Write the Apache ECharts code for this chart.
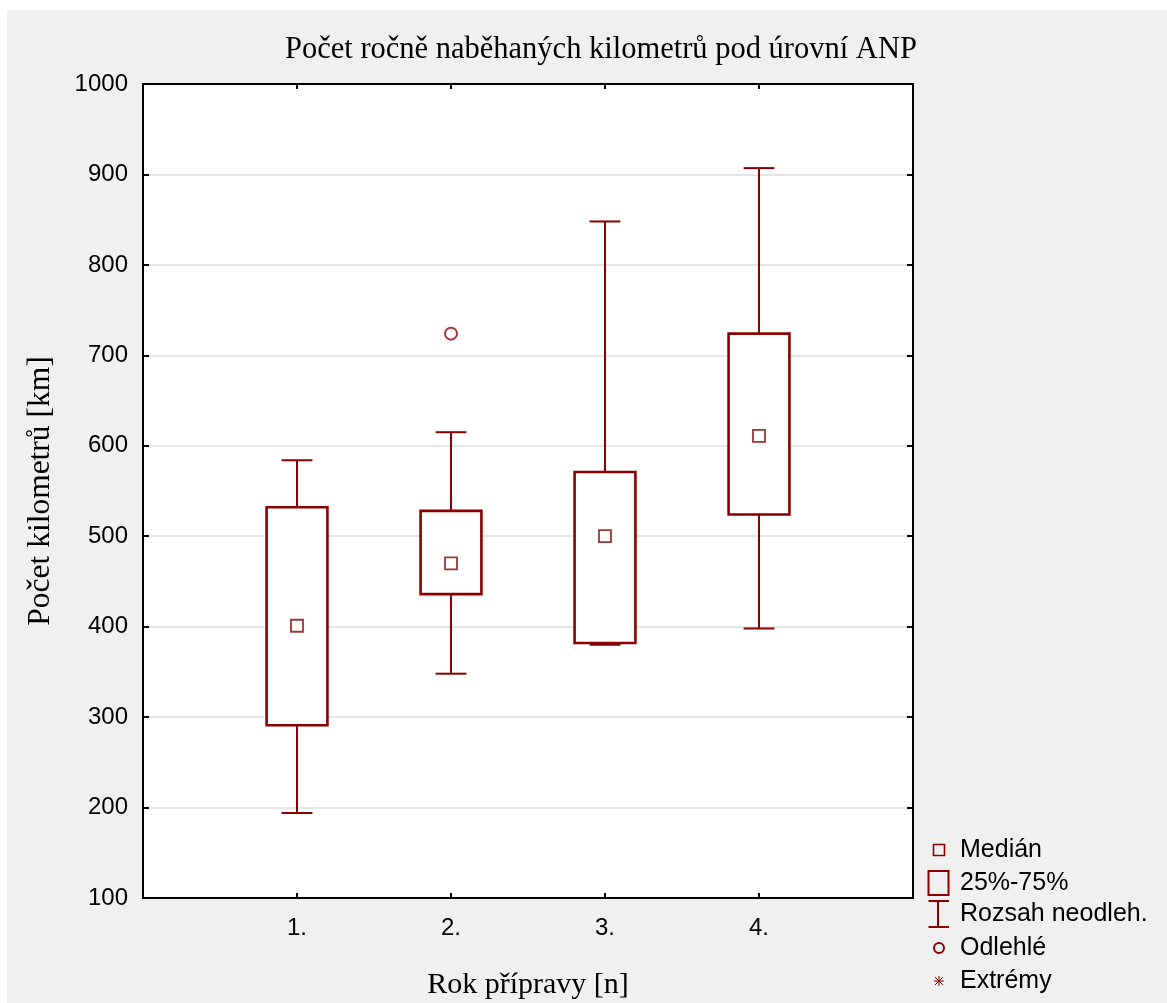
<!DOCTYPE html>
<html>
<head>
<meta charset="utf-8">
<script src="https://cdn.jsdelivr.net/npm/echarts@6/dist/echarts.min.js"></script>
<style>
  html, body { margin: 0; padding: 0; background: #fff; }
  #bg { position: absolute; left: 7px; top: 10px; width: 1160px; height: 993px; background: #f0f0f0; }
  #chart { position: absolute; left: 0; top: 0; width: 1167px; height: 1003px; }
</style>
</head>
<body>
<div id="bg"></div>
<div id="chart"></div>
<script>
// rok přípravy
const categories = ["1.", "2.", "3.", "4."];
// rozsah neodlehlých hodnot a kvartily
const whiskerLow = [194, 348, 380, 398];
const q1 = [291, 436, 382, 524];
const median = [401, 470, 500, 611];
const q3 = [532, 528, 571, 724];
const whiskerHigh = [584, 615, 848, 907];
// odlehlé hodnoty [rok, km]
const outliers = [["2.", 724]];
const yTicks = [100, 1000, 100]; // min, max, krok

const RED = "#880000";
const SANS = "Liberation Sans, Arial, sans-serif";
const SERIF = "Liberation Serif, Times New Roman, serif";

// okraje osy x: prázdné pozice vlevo a vpravo
const xCats = [""].concat(categories).concat([" "]);

const chart = echarts.init(document.getElementById("chart"));

const boxData = categories.map((c, i) => [c, whiskerLow[i], q1[i], median[i], q3[i], whiskerHigh[i]]);
const medianData = categories.map((c, i) => [c, median[i]]);

function renderBox(params, api) {
  const x = api.value(0);
  const lo = api.coord([x, api.value(1)]);
  const b1 = api.coord([x, api.value(2)]);
  const b3 = api.coord([x, api.value(4)]);
  const hi = api.coord([x, api.value(5)]);
  const band = api.size([1, 0])[0];
  const boxW = band * 0.395;
  const capW = band * 0.2;
  const cx = lo[0];
  const lineStyle = { stroke: RED, lineWidth: 2, fill: null };
  return {
    type: "group",
    children: [
      { type: "line", shape: { x1: cx, y1: b3[1], x2: cx, y2: hi[1] }, style: lineStyle },
      { type: "line", shape: { x1: cx - capW / 2, y1: hi[1], x2: cx + capW / 2, y2: hi[1] }, style: lineStyle },
      { type: "line", shape: { x1: cx, y1: b1[1], x2: cx, y2: lo[1] }, style: lineStyle },
      { type: "line", shape: { x1: cx - capW / 2, y1: lo[1], x2: cx + capW / 2, y2: lo[1] }, style: lineStyle },
      {
        type: "rect",
        shape: { x: cx - boxW / 2, y: b3[1], width: boxW, height: b1[1] - b3[1] },
        style: { stroke: RED, lineWidth: 2.6, fill: "#fff" }
      }
    ]
  };
}

// legenda
const legX = 939, legTextX = 960;
const legRows = [850, 883, 914, 948, 981];
const legNames = ["Medián", "25%-75%", "Rozsah neodleh.", "Odlehlé", "Extrémy"];
const legendEls = [
  { type: "rect", shape: { x: legX - 5.5, y: legRows[0] - 5.5, width: 11, height: 11 }, style: { stroke: RED, lineWidth: 1.6, fill: "none" } },
  { type: "rect", shape: { x: legX - 10.5, y: legRows[1] - 12, width: 20, height: 24 }, style: { stroke: RED, lineWidth: 2, fill: "none" } },
  { type: "line", shape: { x1: legX - 10.5, y1: legRows[2] - 13, x2: legX + 10, y2: legRows[2] - 13 }, style: { stroke: RED, lineWidth: 2 } },
  { type: "line", shape: { x1: legX - 1, y1: legRows[2] - 13, x2: legX - 1, y2: legRows[2] + 13 }, style: { stroke: RED, lineWidth: 2 } },
  { type: "line", shape: { x1: legX - 10.5, y1: legRows[2] + 13, x2: legX + 10, y2: legRows[2] + 13 }, style: { stroke: RED, lineWidth: 2 } },
  { type: "circle", shape: { cx: legX, cy: legRows[3], r: 5 }, style: { stroke: RED, lineWidth: 2, fill: "none" } },
  { type: "line", shape: { x1: legX - 5, y1: legRows[4], x2: legX + 5, y2: legRows[4] }, style: { stroke: RED, lineWidth: 1 } },
  { type: "line", shape: { x1: legX, y1: legRows[4] - 5, x2: legX, y2: legRows[4] + 5 }, style: { stroke: RED, lineWidth: 1 } },
  { type: "line", shape: { x1: legX - 4, y1: legRows[4] - 4, x2: legX + 4, y2: legRows[4] + 4 }, style: { stroke: RED, lineWidth: 1 } },
  { type: "line", shape: { x1: legX - 4, y1: legRows[4] + 4, x2: legX + 4, y2: legRows[4] - 4 }, style: { stroke: RED, lineWidth: 1 } }
];
legNames.forEach((name, i) => {
  legendEls.push({
    type: "text",
    x: legTextX,
    y: legRows[i],
    style: { text: name, font: "25px " + SANS, fill: "#000", textVerticalAlign: "middle" }
  });
});

const tickInner = (idx) => idx >= 1 && idx <= categories.length;

const option = {
  animation: false,
  title: {
    text: "Počet ročně naběhaných kilometrů pod úrovní ANP",
    left: 280,
    top: 29,
    textStyle: { fontFamily: SERIF, fontSize: 30.5, fontWeight: "normal", color: "#000" }
  },
  grid: {
    left: 143,
    top: 84,
    width: 770,
    height: 814,
    outerBoundsMode: "none",
    containLabel: false,
    show: true,
    backgroundColor: "#fff",
    borderColor: "#000",
    borderWidth: 2
  },
  xAxis: [
    {
      type: "category",
      data: xCats,
      boundaryGap: false,
      name: "Rok přípravy [n]",
      nameLocation: "middle",
      nameGap: 72,
      nameTextStyle: { fontFamily: SERIF, fontSize: 30, color: "#000" },
      axisLine: { lineStyle: { color: "#000", width: 2 } },
      axisTick: { inside: true, length: 5, interval: tickInner, lineStyle: { color: "#000", width: 2 } },
      axisLabel: { interval: 0, margin: 18, fontFamily: SANS, fontSize: 24, color: "#000" },
      splitLine: { show: false }
    },
    {
      type: "category",
      data: xCats,
      boundaryGap: false,
      position: "top",
      axisLine: { lineStyle: { color: "#000", width: 2 } },
      axisTick: { inside: true, length: 5, interval: tickInner, lineStyle: { color: "#000", width: 2 } },
      axisLabel: { show: false },
      splitLine: { show: false }
    }
  ],
  yAxis: [
    {
      type: "value",
      min: yTicks[0],
      max: yTicks[1],
      interval: yTicks[2],
      name: "Počet kilometrů [km]",
      nameLocation: "middle",
      nameGap: 86,
      nameRotate: 90,
      nameTextStyle: { fontFamily: SERIF, fontSize: 31.5, color: "#000" },
      axisLine: { show: true, lineStyle: { color: "#000", width: 2 } },
      axisTick: { show: true, inside: true, length: 6, lineStyle: { color: "#000", width: 2 } },
      axisLabel: { margin: 15, fontFamily: SANS, fontSize: 24, color: "#000", formatter: (v) => String(v) },
      splitLine: { show: true, lineStyle: { color: "#dedede", width: 1.5 } }
    },
    {
      type: "value",
      min: yTicks[0],
      max: yTicks[1],
      interval: yTicks[2],
      position: "right",
      axisLine: { show: true, lineStyle: { color: "#000", width: 2 } },
      axisTick: { show: true, inside: true, length: 6, lineStyle: { color: "#000", width: 2 } },
      axisLabel: { show: false },
      splitLine: { show: false }
    }
  ],
  series: [
    {
      name: "Rozsah neodleh.",
      type: "custom",
      renderItem: renderBox,
      encode: { x: 0, y: [1, 2, 3, 4, 5] },
      data: boxData,
      z: 2
    },
    {
      name: "Medián",
      type: "scatter",
      symbol: "rect",
      symbolSize: 12,
      itemStyle: { color: "#fff", borderColor: RED, borderWidth: 1.8 },
      data: medianData,
      z: 3
    },
    {
      name: "Odlehlé",
      type: "scatter",
      symbol: "circle",
      symbolSize: 12,
      itemStyle: { color: "#fff", borderColor: RED, borderWidth: 2 },
      data: outliers,
      z: 3
    }
  ],
  graphic: { elements: legendEls }
};

chart.setOption(option);
</script>
</body>
</html>
